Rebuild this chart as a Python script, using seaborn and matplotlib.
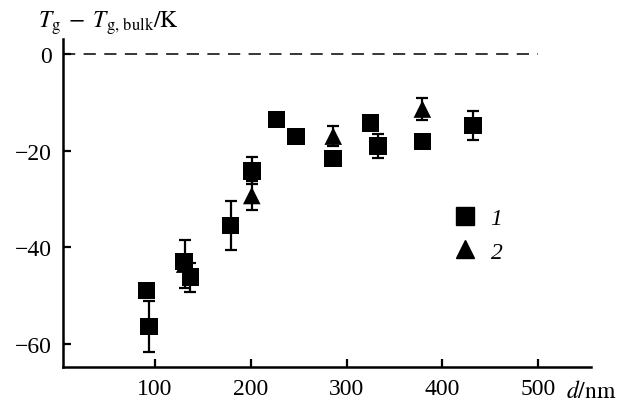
import matplotlib
matplotlib.use('Agg')
import matplotlib.pyplot as plt
from matplotlib.lines import Line2D
import seaborn as sns
import pandas as pd

# series 1 (squares)
d1 = [91, 94, 130, 137, 179, 201, 227, 247, 286, 325, 333, 379, 432]
t1 = [-49.0, -56.4, -43.0, -46.2, -35.5, -24.2, -13.6, -17.1, -21.6, -14.3, -19.0, -18.1, -14.8]
e1 = [0, 5.2, 0, 3.0, 5.1, 2.8, 0, 0, 0.8, 0, 2.5, 0, 3.0]

# series 2 (triangles)
d2 = [131, 201, 286, 379]
t2 = [-43.5, -29.3, -17.0, -11.4]
e2 = [5.0, 3.0, 2.0, 2.3]

xticks = [100, 200, 300, 400, 500]
yticks = [0, -20, -40, -60]

df = pd.DataFrame({
    'd': d1 + d2,
    'dT': t1 + t2,
    'err': e1 + e2,
    'series': ['1'] * len(d1) + ['2'] * len(d2),
})

sns.set_style('ticks', {'axes.edgecolor': 'black', 'xtick.color': 'black',
                        'ytick.color': 'black', 'text.color': 'black'})
plt.rcParams['font.family'] = ['Liberation Serif', 'DejaVu Serif']
plt.rcParams['mathtext.fontset'] = 'stix'

fig = plt.figure(figsize=(6.26, 4.02), dpi=100)
ax = fig.add_axes([63 / 626, 1 - 368 / 402, 528 / 626, 328 / 402])

# error bars first, markers on top
for s, g in df.groupby('series'):
    g = g[g['err'] > 0]
    ax.errorbar(g['d'], g['dT'], yerr=g['err'], fmt='none', ecolor='black',
                elinewidth=1.6, capsize=4.5, capthick=1.6, zorder=2)

ax.plot([4, 500], [0, 0], color='black', lw=1.1, linestyle=(0, (8, 5.5)), zorder=1)

sns.scatterplot(data=df, x='d', y='dT', style='series', markers={'1': 's', '2': '^'},
                color='black', s=160, edgecolor='none', linewidth=0, legend=False,
                ax=ax, zorder=3)

ax.set_xlim(4, 555)
ax.set_ylim(-64.8, 3.1)
ax.set_xticks(xticks)
ax.set_yticks(yticks)
ax.tick_params(direction='in', length=6, width=1.6, labelsize=17, pad=8,
               colors='black')
ax.tick_params(axis='y', pad=8)
for side in ['top', 'right']:
    ax.spines[side].set_visible(False)
for side in ['left', 'bottom']:
    ax.spines[side].set_linewidth(1.8)
    ax.spines[side].set_color('black')
ax.set_xlabel('')
ax.set_ylabel('')

fig.text(38 / 626, 1 - 28 / 402, r'$T_{\rm g}\;-\;T_{\rm g,\,bulk}/{\rm K}$',
         fontsize=17, ha='left', va='baseline')
fig.text(566 / 626, 1 - 398 / 402, r'$d/{\rm nm}$', fontsize=17, ha='left', va='baseline')

handles = [
    Line2D([], [], marker='s', color='black', linestyle='none', markersize=12.5),
    Line2D([], [], marker='^', color='black', linestyle='none', markersize=13.5),
]
ax.legend(handles, ['1', '2'], frameon=False, prop={'style': 'italic', 'size': 17},
          handlelength=1.0, handletextpad=0.6, labelspacing=0.5, borderpad=0,
          loc='upper left', bbox_to_anchor=(441 / 626, 1 - 197 / 402),
          bbox_transform=fig.transFigure)

fig.savefig('out.png', dpi=100)
